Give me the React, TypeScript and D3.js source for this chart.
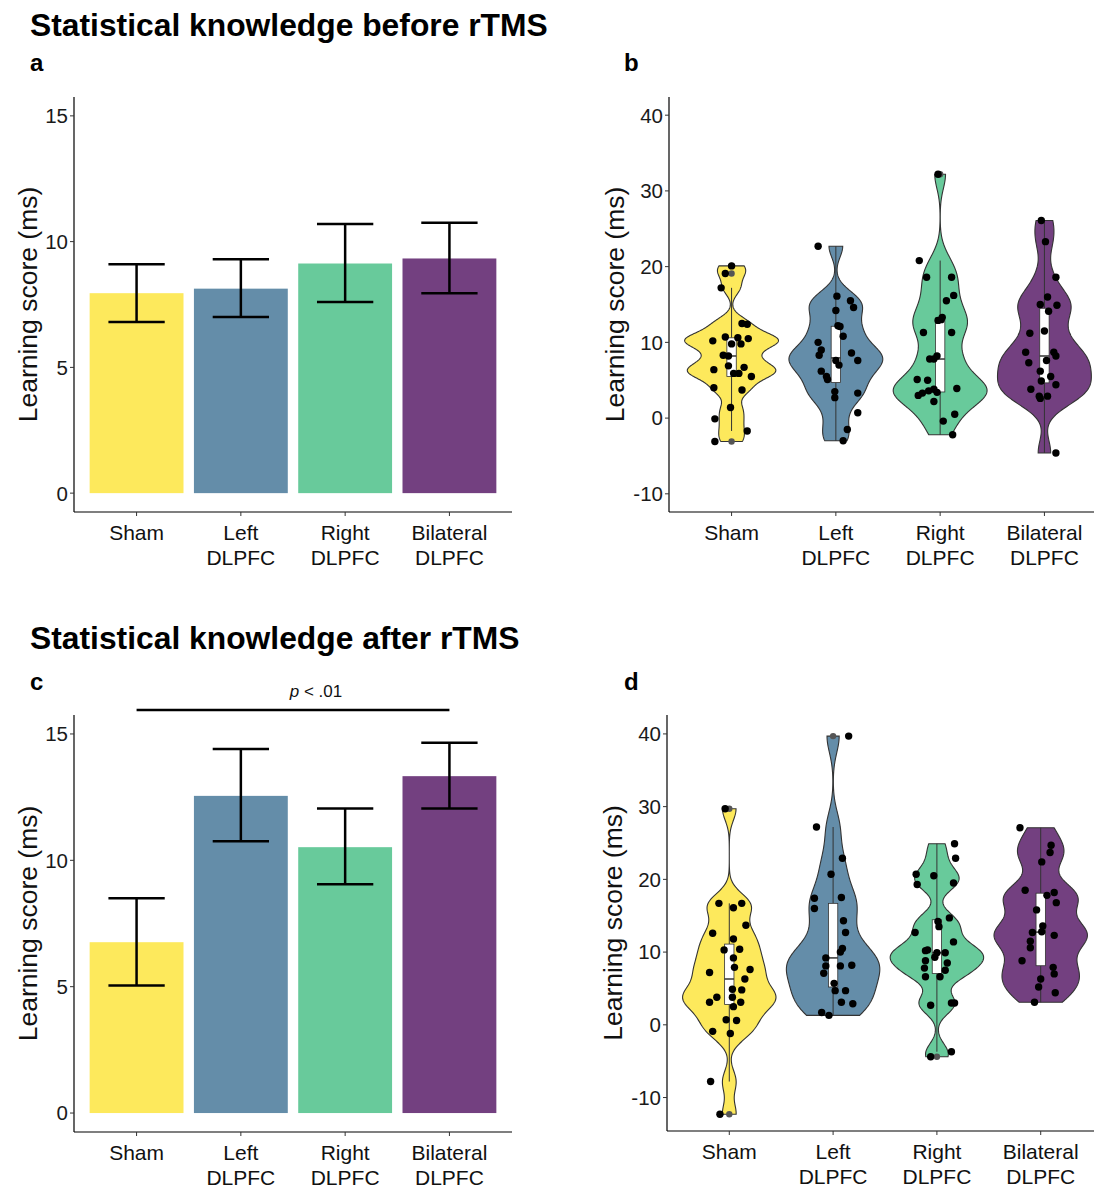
import React from "react";
import * as d3 from "d3";

const groupLabels = [["Sham"], ["Left", "DLPFC"], ["Right", "DLPFC"], ["Bilateral", "DLPFC"]];
const groupKeys = ["Sham", "Left", "Right", "Bilateral"];
const colors = ["#FDE95C", "#648DA9", "#68CA9B", "#734080"];

// bar means with error bar limits
const beforeMeans = [7.95, 8.13, 9.13, 9.33];
const beforeLow = [6.8, 7.0, 7.6, 7.95];
const beforeHigh = [9.1, 9.3, 10.7, 10.75];
const afterMeans = [6.76, 12.55, 10.52, 13.33];
const afterLow = [5.05, 10.75, 9.05, 12.05];
const afterHigh = [8.5, 14.4, 12.05, 14.65];

const barTicks = [0, 5, 10, 15];
const violinTicks = [-10, 0, 10, 20, 30, 40];

// individual scores: [value, jitter (fraction of category step)]
const beforeSham = [[20.1, 0.0], [19.1, -0.06], [17.2, -0.1], [12.5, 0.1], [12.4, 0.15], [10.2, -0.18], [10.7, -0.06], [10.6, 0.06], [10.5, 0.16], [9.8, 0.0], [9.8, 0.09], [8.3, -0.08], [8.2, -0.03], [6.4, -0.17], [6.9, -0.03], [5.9, 0.02], [5.9, 0.07], [6.7, 0.12], [5.5, 0.19], [4.0, -0.17], [3.7, 0.1], [1.4, -0.01], [-0.1, -0.16], [-1.7, 0.15], [-3.1, -0.16]];
const beforeLeft = [[22.7, -0.17], [16.1, 0.01], [15.5, 0.14], [14.6, 0.17], [14.2, 0.0], [12.2, 0.02], [12.1, 0.04], [10.8, 0.07], [10.0, -0.17], [9.0, -0.14], [8.3, -0.16], [8.6, 0.15], [7.6, 0.21], [7.6, 0.0], [7.0, 0.03], [6.2, -0.14], [5.5, -0.09], [5.1, -0.08], [3.5, -0.01], [2.7, -0.01], [3.3, 0.21], [0.7, 0.21], [-1.5, 0.11], [-3.0, 0.07]];
const beforeRight = [[32.2, -0.02], [20.8, -0.2], [18.6, -0.13], [18.6, 0.11], [16.2, 0.13], [15.5, 0.06], [13.3, 0.02], [13.0, 0.01], [12.9, -0.02], [11.3, -0.16], [11.3, 0.11], [8.2, -0.03], [7.8, -0.1], [7.8, -0.06], [5.1, -0.22], [5.0, -0.12], [3.9, 0.16], [3.0, -0.21], [3.3, -0.17], [3.6, -0.11], [3.8, -0.06], [3.4, -0.03], [2.2, -0.06], [0.5, 0.14], [-0.4, 0.03], [-2.2, 0.12]];
const beforeBilateral = [[26.1, -0.03], [23.3, 0.01], [18.6, 0.11], [16.0, 0.03], [15.0, -0.04], [14.9, 0.12], [14.1, 0.04], [11.2, -0.14], [11.5, 0.0], [8.7, -0.18], [8.7, 0.09], [8.2, 0.11], [7.3, -0.15], [7.6, 0.02], [6.2, -0.04], [5.5, 0.06], [4.9, -0.03], [4.4, 0.11], [3.8, -0.13], [2.9, -0.05], [2.9, 0.03], [2.6, -0.04], [-4.6, 0.11]];

const afterSham = [[29.7, -0.04], [16.7, -0.1], [16.7, 0.12], [16.1, 0.04], [13.7, 0.16], [12.6, -0.16], [11.8, 0.04], [10.3, -0.05], [10.4, 0.1], [9.2, 0.04], [7.2, -0.19], [7.9, 0.05], [7.6, 0.2], [6.3, 0.15], [3.8, -0.12], [3.1, -0.19], [4.9, 0.03], [4.8, 0.12], [3.8, 0.03], [3.1, 0.11], [2.5, 0.04], [0.7, -0.03], [0.6, 0.07], [-0.9, -0.16], [-1.2, 0.01], [-7.8, -0.18], [-12.3, -0.09]];
const afterLeft = [[39.7, 0.15], [27.2, -0.16], [22.9, 0.09], [20.7, -0.02], [17.4, -0.18], [16.0, -0.18], [17.5, 0.08], [14.3, 0.1], [12.7, 0.12], [10.5, 0.09], [10.0, 0.07], [9.2, -0.07], [8.1, -0.07], [8.1, 0.07], [8.2, 0.18], [7.1, -0.09], [5.7, 0.01], [4.7, 0.12], [4.7, 0.02], [3.1, 0.08], [2.9, 0.19], [1.7, -0.11], [1.3, -0.04]];
const afterRight = [[24.9, 0.17], [22.9, 0.18], [20.7, -0.2], [20.5, -0.03], [19.3, -0.19], [19.5, 0.16], [14.7, 0.12], [14.2, 0.01], [13.5, 0.02], [12.7, -0.21], [11.4, 0.16], [10.3, -0.09], [10.2, -0.11], [9.9, 0.0], [9.3, -0.02], [9.9, 0.08], [8.8, -0.11], [8.5, 0.1], [7.8, -0.12], [7.5, 0.08], [6.6, 0.03], [6.6, -0.11], [2.7, -0.06], [3.0, 0.14], [3.0, 0.17], [-3.7, 0.14], [-4.4, -0.06]];
const afterBilateral = [[27.1, -0.2], [24.7, 0.1], [23.7, 0.09], [22.4, 0.01], [18.5, -0.15], [18.2, 0.13], [17.8, 0.06], [16.8, 0.15], [15.8, -0.04], [13.6, 0.02], [12.8, 0.01], [12.7, -0.08], [12.3, 0.13], [11.5, -0.1], [10.6, -0.1], [8.8, -0.18], [7.9, 0.12], [7.0, 0.13], [6.3, 0.0], [5.2, -0.02], [4.4, 0.14], [3.1, -0.06]];

const FONT = "'Liberation Sans', Arial, Helvetica, sans-serif";

// gaussian kde, bandwidth from R's bw.nrd0 times an adjust factor
function kde(values, adjust) {
  const v = values.slice().sort(d3.ascending);
  const n = v.length;
  const sd = d3.deviation(v);
  const iqr = d3.quantile(v, 0.75) - d3.quantile(v, 0.25);
  const lo = Math.min(sd, iqr / 1.34);
  const bw = adjust * 0.9 * lo * Math.pow(n, -0.2);
  const [min, max] = d3.extent(v);
  return d3.range(0, 301).map((i) => {
    const x = min + ((max - min) * i) / 300;
    const dens = d3.sum(v, (d) => Math.exp(-0.5 * ((x - d) / bw) ** 2)) / (n * bw * Math.sqrt(2 * Math.PI));
    return [x, dens];
  });
}

function boxStats(values) {
  const v = values.slice().sort(d3.ascending);
  const q1 = d3.quantile(v, 0.25);
  const med = d3.quantile(v, 0.5);
  const q3 = d3.quantile(v, 0.75);
  const iqr = q3 - q1;
  const inside = v.filter((d) => d >= q1 - 1.5 * iqr && d <= q3 + 1.5 * iqr);
  const outliers = v.filter((d) => d < q1 - 1.5 * iqr || d > q3 + 1.5 * iqr);
  return { q1, med, q3, lo: d3.min(inside), hi: d3.max(inside), outliers };
}

function YAxis({ y, x0, ticks, label, top, bottom, labelOffset }) {
  return (
    <g>
      <line x1={x0} x2={x0} y1={top} y2={bottom} stroke="#000" strokeWidth={1.2} />
      {ticks.map((t) => (
        <g key={t}>
          <line x1={x0 - 4} x2={x0} y1={y(t)} y2={y(t)} stroke="#333" strokeWidth={1} />
          <text x={x0 - 6} y={y(t)} dy="0.36em" textAnchor="end" fontSize={20.5} fill="#1a1a1a">{t}</text>
        </g>
      ))}
      <text transform={`translate(${x0 - labelOffset},${(top + bottom) / 2}) rotate(-90)`} textAnchor="middle" dy="0.35em" fontSize={26.5} fill="#111">{label}</text>
    </g>
  );
}

function XAxis({ x, y0, x0, x1 }) {
  return (
    <g>
      <line x1={x0} x2={x1} y1={y0} y2={y0} stroke="#000" strokeWidth={1.2} />
      {groupKeys.map((k, i) => (
        <g key={k}>
          <line x1={x(k)} x2={x(k)} y1={y0} y2={y0 + 4} stroke="#333" strokeWidth={1} />
          {groupLabels[i].map((l, j) => (
            <text key={j} x={x(k)} y={y0 + 28 + j * 25} textAnchor="middle" fontSize={21} fill="#111">{l}</text>
          ))}
        </g>
      ))}
    </g>
  );
}

function BarPanel({ left, right, top, bottom, means, low, high, sig }) {
  const x = d3.scalePoint().domain(groupKeys).range([left, right]).padding(0.6);
  const y = d3.scaleLinear().domain([-0.75, 15.75]).range([bottom, top]);
  const bw = x.step() * 0.9;
  const cap = x.step() * 0.27;
  return (
    <g>
      {groupKeys.map((k, i) => (
        <g key={k}>
          <rect x={x(k) - bw / 2} y={y(means[i])} width={bw} height={y(0) - y(means[i])} fill={colors[i]} />
          <line x1={x(k)} x2={x(k)} y1={y(low[i])} y2={y(high[i])} stroke="#000" strokeWidth={2.5} />
          <line x1={x(k) - cap} x2={x(k) + cap} y1={y(low[i])} y2={y(low[i])} stroke="#000" strokeWidth={2.5} />
          <line x1={x(k) - cap} x2={x(k) + cap} y1={y(high[i])} y2={y(high[i])} stroke="#000" strokeWidth={2.5} />
        </g>
      ))}
      <YAxis y={y} x0={left} ticks={barTicks} label="Learning score (ms)" top={top} bottom={bottom} labelOffset={46} />
      <XAxis x={x} y0={bottom} x0={left} x1={right} />
      {sig && (
        <g>
          <line x1={x(groupKeys[0])} x2={x(groupKeys[3])} y1={top - 5} y2={top - 5} stroke="#000" strokeWidth={2.5} />
          <text x={(x(groupKeys[0]) + x(groupKeys[3])) / 2 + 23} y={top - 18} textAnchor="middle" fontSize={17} fill="#111">
            <tspan fontStyle="italic">p</tspan> &lt; .01
          </text>
        </g>
      )}
    </g>
  );
}

function ViolinPanel({ left, right, top, bottom, domain, groups }) {
  const x = d3.scalePoint().domain(groupKeys).range([left, right]).padding(0.6);
  const y = d3.scaleLinear().domain(domain).range([bottom, top]);
  const half = (x.step() * 0.9) / 2;
  const boxHalf = x.step() * 0.045;
  return (
    <g>
      {groupKeys.map((k, i) => {
        const vals = groups[i].map((d) => d[0]);
        const dens = kde(vals, 0.55);
        const maxD = d3.max(dens, (d) => d[1]);
        const w = d3.scaleLinear().domain([0, maxD]).range([0, half]);
        const area = d3.area()
          .y((d) => y(d[0]))
          .x0((d) => x(k) - w(d[1]))
          .x1((d) => x(k) + w(d[1]))
          .curve(d3.curveLinear);
        const b = boxStats(vals);
        const cx = x(k);
        return (
          <g key={k}>
            <path d={area(dens)} fill={colors[i]} stroke="#333" strokeWidth={1.1} />
            <line x1={cx} x2={cx} y1={y(b.hi)} y2={y(b.q3)} stroke="#333" strokeWidth={1} />
            <line x1={cx} x2={cx} y1={y(b.q1)} y2={y(b.lo)} stroke="#333" strokeWidth={1} />
            <rect x={cx - boxHalf} y={y(b.q3)} width={boxHalf * 2} height={y(b.q1) - y(b.q3)} fill="#fff" stroke="#333" strokeWidth={0.8} />
            <line x1={cx - boxHalf} x2={cx + boxHalf} y1={y(b.med)} y2={y(b.med)} stroke="#333" strokeWidth={1.5} />
            {b.outliers.map((o, j) => (
              <circle key={"o" + j} cx={cx} cy={y(o)} r={3.2} fill="#555" />
            ))}
            {groups[i].map((d, j) => (
              <circle key={j} cx={cx + d[1] * x.step()} cy={y(d[0])} r={3.7} fill="#000" />
            ))}
          </g>
        );
      })}
      <YAxis y={y} x0={left} ticks={violinTicks} label="Learning score (ms)" top={top} bottom={bottom} labelOffset={54} />
      <XAxis x={x} y0={bottom} x0={left} x1={right} />
    </g>
  );
}

export default function App() {
  return (
    <svg width={1094} height={1188} style={{ position: "absolute", left: 0, top: 0, background: "#fff" }} fontFamily={FONT}>
      <text x={30} y={36} fontSize={31.8} fontWeight="bold" fill="#000">Statistical knowledge before rTMS</text>
      <text x={30} y={71} fontSize={24} fontWeight="bold" fill="#000">a</text>
      <text x={624} y={71} fontSize={24} fontWeight="bold" fill="#000">b</text>
      <text x={30} y={649} fontSize={31.8} fontWeight="bold" fill="#000">Statistical knowledge after rTMS</text>
      <text x={30} y={690} fontSize={24} fontWeight="bold" fill="#000">c</text>
      <text x={624} y={690} fontSize={24} fontWeight="bold" fill="#000">d</text>

      <BarPanel left={74} right={512} top={97} bottom={512} means={beforeMeans} low={beforeLow} high={beforeHigh} sig={false} />
      <ViolinPanel left={669} right={1107} top={97} bottom={512} domain={[-12.4, 42.4]}
        groups={[beforeSham, beforeLeft, beforeRight, beforeBilateral]} />
      <BarPanel left={74} right={512} top={715} bottom={1132} means={afterMeans} low={afterLow} high={afterHigh} sig={true} />
      <ViolinPanel left={667} right={1103} top={715} bottom={1131} domain={[-14.6, 42.6]}
        groups={[afterSham, afterLeft, afterRight, afterBilateral]} />
    </svg>
  );
}
